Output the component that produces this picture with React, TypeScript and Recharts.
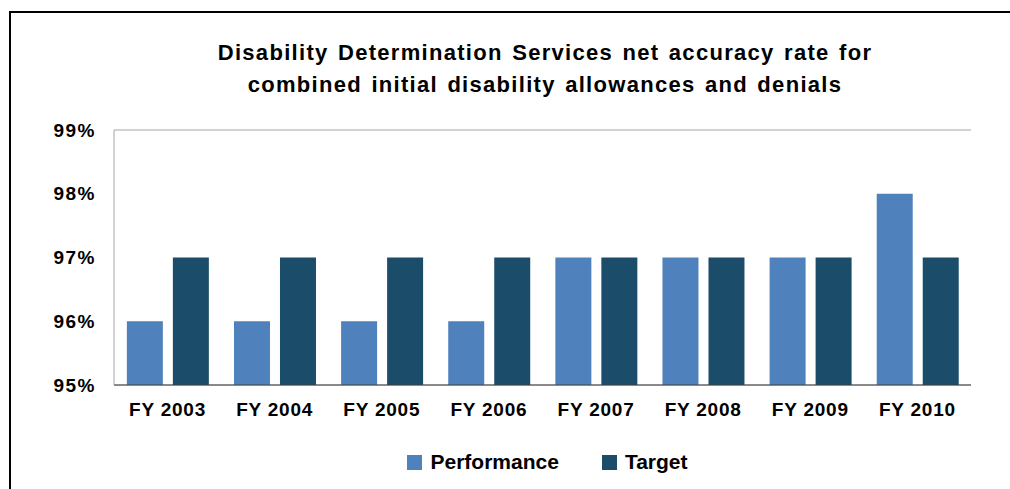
import React from "react";
import {
  BarChart,
  Bar,
  XAxis,
  YAxis,
  CartesianGrid,
  Legend,
} from "recharts";

const years = ["FY 2003", "FY 2004", "FY 2005", "FY 2006", "FY 2007", "FY 2008", "FY 2009", "FY 2010"];
const performance = [96, 96, 96, 96, 97, 97, 97, 98];
const target = [97, 97, 97, 97, 97, 97, 97, 97];
const yTicks = [95, 96, 97, 98, 99];

const PERF_COLOR = "#4f81bd";
const TARGET_COLOR = "#1b4d6b";
const FONT = '"Liberation Sans", Arial, sans-serif';

const data = years.map((year, i) => ({
  year,
  performance: performance[i],
  target: target[i],
}));

function LegendBox() {
  const item = (color: string, label: string, gap: number) => (
    <div style={{ display: "flex", alignItems: "center", marginRight: gap }}>
      <div style={{ width: 15, height: 15, background: color, marginRight: 8 }} />
      <span style={{ fontFamily: FONT, fontWeight: "bold", fontSize: 21, color: "#000" }}>
        {label}
      </span>
    </div>
  );
  return (
    <div
      style={{
        height: 54,
        display: "flex",
        alignItems: "center",
        justifyContent: "center",
        paddingLeft: 124,
        boxSizing: "border-box",
      }}
    >
      {item(PERF_COLOR, "Performance", 43)}
      {item(TARGET_COLOR, "Target", 0)}
    </div>
  );
}

export default function App() {
  const xTickStyle = {
    fill: "#000",
    fontSize: 19,
    fontWeight: "bold",
    fontFamily: FONT,
    letterSpacing: 0.8,
  };
  const yTickStyle = { ...xTickStyle, letterSpacing: 1.5 };
  return (
    <div
      style={{
        position: "absolute",
        left: 0,
        top: 0,
        width: 1010,
        height: 489,
        overflow: "hidden",
        background: "#fff",
      }}
    >
      {/* outer frame, runs off the right and bottom edges */}
      <div
        style={{
          position: "absolute",
          left: 9,
          top: 11,
          width: 1100,
          height: 600,
          border: "2px solid #000",
        }}
      />
      <div
        style={{
          position: "absolute",
          left: 100,
          width: 890,
          top: 37,
          textAlign: "center",
          fontFamily: FONT,
          fontWeight: "bold",
          fontSize: 22,
          letterSpacing: 1.3,
          wordSpacing: 2,
          lineHeight: "32px",
          color: "#000",
        }}
      >
        Disability Determination Services net accuracy rate for
        <br />
        combined initial disability allowances and denials
      </div>
      <div style={{ position: "absolute", left: 0, top: 0 }}>
        <BarChart
          width={1010}
          height={489}
          data={data}
          margin={{ top: 130, right: 39, left: 0, bottom: 0 }}
          barCategoryGap="12%"
          barGap={10}
        >
          <CartesianGrid vertical={false} stroke="#a6a6a6" />
          <XAxis
            dataKey="year"
            height={50}
            tick={xTickStyle}
            tickLine={false}
            tickSize={0}
            tickMargin={18}
            axisLine={{ stroke: "#404040" }}
          />
          <YAxis
            yAxisId="left"
            width={114}
            domain={[95, 99]}
            ticks={yTicks}
            tickFormatter={(v) => v + "%"}
            tick={yTickStyle}
            tickLine={false}
            tickSize={0}
            tickMargin={18}
            axisLine={{ stroke: "#a6a6a6" }}
          />
          <YAxis
            yAxisId="right"
            orientation="right"
            width={0}
            domain={[95, 99]}
            tick={false}
            tickLine={false}
            axisLine={{ stroke: "#a6a6a6" }}
          />
          <Legend verticalAlign="bottom" content={() => <LegendBox />} />
          <Bar
            yAxisId="left"
            dataKey="performance"
            name="Performance"
            fill={PERF_COLOR}
            isAnimationActive={false}
          />
          <Bar
            yAxisId="left"
            dataKey="target"
            name="Target"
            fill={TARGET_COLOR}
            isAnimationActive={false}
          />
        </BarChart>
      </div>
    </div>
  );
}
